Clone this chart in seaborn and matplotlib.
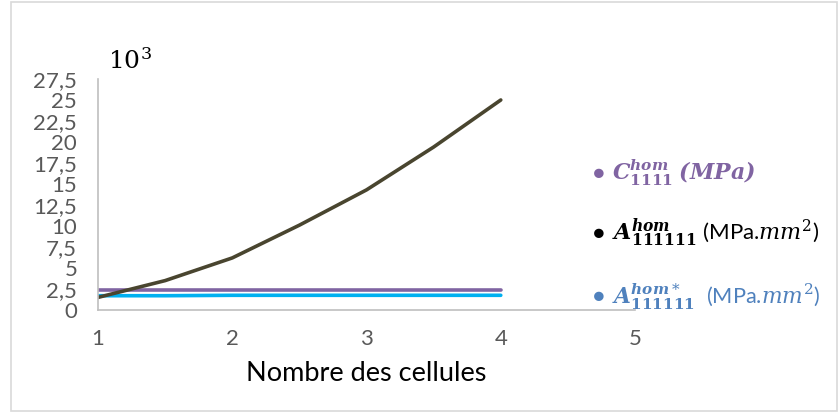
import matplotlib
matplotlib.use("Agg")
import matplotlib.pyplot as plt
import seaborn as sns
import pandas as pd

# DONNÉES (valeurs x10^3)

cellules = [1, 1.5, 2, 2.5, 3, 3.5, 4]
A_hom = [1.5, 3.5, 6.2, 10.1, 14.3, 19.4, 25.0]
C_hom = [2.4, 2.4, 2.4, 2.4, 2.4, 2.4, 2.4]
A_hom_star = [1.7, 1.7, 1.75, 1.75, 1.75, 1.75, 1.75]

y_ticks = [0, 2.5, 5, 7.5, 10, 12.5, 15, 17.5, 20, 22.5, 25, 27.5]
y_labels = ["0", "2,5", "5", "7,5", "10", "12,5", "15", "17,5", "20", "22,5", "25", "27,5"]
x_ticks = [1, 2, 3, 4, 5]

df = pd.DataFrame({
    "cellules": cellules,
    "A_hom": A_hom,
    "C_hom": C_hom,
    "A_hom_star": A_hom_star,
})

sns.set_style("white")
plt.rcParams["font.family"] = ["Lato", "DejaVu Sans"]
plt.rcParams["mathtext.fontset"] = "dejavuserif"

fig = plt.figure(figsize=(8.4, 4.17), dpi=100)
ax = fig.add_axes([0.1167, 0.2566, 0.756 - 0.1167, 0.8106 - 0.2566])

sns.lineplot(data=df, x="cellules", y="C_hom", color="#8064a2", linewidth=2.6, ax=ax)
sns.lineplot(data=df, x="cellules", y="A_hom_star", color="#00b0f0", linewidth=2.6, ax=ax)
sns.lineplot(data=df, x="cellules", y="A_hom", color="#49452f", linewidth=2.6, ax=ax)

ax.set_xlim(1, 5)
ax.set_ylim(0, 27.5)
ax.set_yticks(y_ticks)
ax.set_yticklabels(y_labels)
ax.set_xticks(x_ticks)
ax.tick_params(axis="both", colors="#595959", labelsize=16, length=0)
ax.tick_params(axis="y", pad=15)
ax.tick_params(axis="x", pad=14)
ax.set_ylabel("")
ax.set_xlabel("Nombre des cellules", fontsize=19.5, color="black", labelpad=8)

for s in ["top", "right"]:
    ax.spines[s].set_visible(False)
for s in ["left", "bottom"]:
    ax.spines[s].set_color("#bfbfbf")
    ax.spines[s].set_linewidth(1.2)

fig.text(0.128, 0.835, r"$10^3$", fontsize=18, color="black")

# légende en texte
fig.text(0.706, 0.585, "\u25CF", color="#8064a2", fontsize=14, va="center")
fig.text(0.728, 0.585, r"$\mathbfit{C}_{\mathbf{1111}}^{\mathbfit{hom}}$ $\mathbfit{(MPa)}$",
         color="#8064a2", fontsize=15.8, va="center")
fig.text(0.706, 0.441, "\u25CF", color="black", fontsize=14, va="center")
fig.text(0.728, 0.441, r"$\mathbfit{A}_{\mathbf{111111}}^{\mathbfit{hom}}$ (MPa.$mm^2$)",
         color="black", fontsize=16, va="center")
fig.text(0.706, 0.288, "\u25CF", color="#4f81bd", fontsize=14, va="center")
fig.text(0.728, 0.288, r"$\mathbfit{A}_{\mathbf{111111}}^{\mathbfit{hom}*}$  (MPa.$mm^2$)",
         color="#4f81bd", fontsize=15.7, va="center")

# cadre
fig.patches.append(plt.Rectangle((0.013, 0.015), 0.984, 0.98, transform=fig.transFigure,
                                 fill=False, edgecolor="#d9d9d9", linewidth=1.2))

fig.savefig("out.png", dpi=100)
